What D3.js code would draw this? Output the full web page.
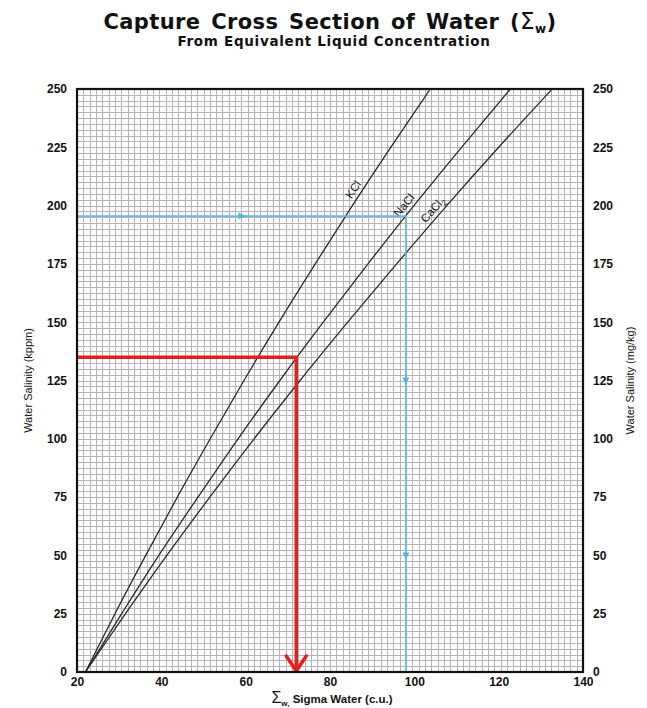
<!DOCTYPE html>
<html>
<head>
<meta charset="utf-8">
<script src="https://cdn.jsdelivr.net/npm/d3@7/dist/d3.min.js"></script>
<style>
  html, body { margin: 0; padding: 0; background: #fff; }
  svg { display: block; }
</style>
</head>
<body>
<svg id="chart" width="647" height="708"></svg>
<script>
// ---------------- data ----------------
const salinity = [0, 25, 50, 75, 100, 125, 150, 175, 200, 225, 250];          // kppm
const kclSigma   = [22.0, 29.0, 36.3, 43.8, 51.6, 59.6, 67.9, 76.5, 85.3, 94.4, 103.8];
const naclSigma  = [22.0, 30.6, 39.4, 48.7, 58.2, 68.1, 78.4, 89.0, 99.9, 111.2, 122.8];
const cacl2Sigma = [22.0, 31.5, 41.3, 51.5, 62.0, 72.9, 84.2, 95.8, 107.7, 120.0, 132.7];
const seriesNames = ["KCl", "NaCl", "CaCl2"];
const labelSalinity = [205, 198, 196];
const xTicks = [20, 40, 60, 80, 100, 120, 140];
const yTicks = [0, 25, 50, 75, 100, 125, 150, 175, 200, 225, 250];
const redExample  = [[20, 135], [72, 135], [72, 0]];      // [sigma, salinity]
const blueExample = [[20, 195.5], [98, 195.5], [98, 0]];
const blueMarks   = [[59, 195.5, "right"], [98, 125, "down"], [98, 50, "down"]];

// ---------------- layout ----------------
const svg = d3.select("#chart");
const L = 77, R = 583, T = 89, B = 672;
const x = d3.scaleLinear().domain([20, 140]).range([L, R]);
const y = d3.scaleLinear().domain([0, 250]).range([B, T]);
const FONT = "'Liberation Sans', Arial, Helvetica, sans-serif";

// titles
const title = svg.append("text")
  .attr("x", 330).attr("y", 29)
  .attr("text-anchor", "middle")
  .attr("font-family", "'DejaVu Sans', sans-serif")
  .attr("font-weight", "bold")
  .attr("font-size", 21)
  .attr("letter-spacing", 0.4)
  .attr("word-spacing", 3)
  .attr("fill", "#111");
title.append("tspan").text("Capture Cross Section of Water (");
title.append("tspan").attr("font-weight", "normal").attr("font-size", 23).text("Σ");
title.append("tspan").attr("font-size", 12).attr("dy", 4).text("w");
title.append("tspan").attr("dy", -4).text(")");

svg.append("text")
  .attr("x", 334).attr("y", 46)
  .attr("text-anchor", "middle")
  .attr("font-family", "'DejaVu Sans', sans-serif")
  .attr("font-weight", "bold")
  .attr("font-size", 13.5)
  .attr("letter-spacing", 0.7)
  .attr("fill", "#111")
  .text("From Equivalent Liquid Concentration");

// grid
const grid = svg.append("g").attr("shape-rendering", "crispEdges")
  .attr("stroke", "#b8b3b8").attr("stroke-width", 1);
const gx = d3.range(1, 80).map(i => 20 + i * 1.5);
const gy = d3.range(1, 100).map(i => i * 2.5);
grid.selectAll("line.v").data(gx).join("line")
  .attr("x1", d => Math.round(x(d)) + 0.5).attr("x2", d => Math.round(x(d)) + 0.5)
  .attr("y1", T).attr("y2", B);
grid.selectAll("line.h").data(gy).join("line")
  .attr("y1", d => Math.round(y(d)) + 0.5).attr("y2", d => Math.round(y(d)) + 0.5)
  .attr("x1", L).attr("x2", R);

// curves
const allSeries = [kclSigma, naclSigma, cacl2Sigma].map((s, i) => ({
  name: seriesNames[i],
  pts: s.map((v, j) => [v, salinity[j]])
}));
const line = d3.line().x(d => x(d[0])).y(d => y(d[1])).curve(d3.curveMonotoneX);
svg.append("g").selectAll("path").data(allSeries).join("path")
  .attr("d", d => line(d.pts))
  .attr("fill", "none").attr("stroke", "#2a2a2a").attr("stroke-width", 1.3);

// curve labels
function sigmaAt(pts, s) {
  for (let j = 1; j < pts.length; j++) {
    if (s <= pts[j][1]) {
      const t = (s - pts[j-1][1]) / (pts[j][1] - pts[j-1][1]);
      return pts[j-1][0] + t * (pts[j][0] - pts[j-1][0]);
    }
  }
  return pts[pts.length - 1][0];
}
allSeries.forEach((d, i) => {
  const s = labelSalinity[i];
  const px = x(sigmaAt(d.pts, s)), py = y(s);
  const px2 = x(sigmaAt(d.pts, s + 10)), py2 = y(s + 10);
  const ang = Math.atan2(py2 - py, px2 - px);
  const deg = ang * 180 / Math.PI;
  const off = 4;
  const nx = Math.sin(ang) * off, ny = -Math.cos(ang) * off;
  const t = svg.append("text")
    .attr("transform", `translate(${px + nx},${py + ny}) rotate(${deg})`)
    .attr("text-anchor", "middle")
    .attr("font-family", FONT).attr("font-size", 11.5)
    .attr("fill", "#111");
  if (d.name === "CaCl2") {
    t.append("tspan").text("CaCl");
    t.append("tspan").attr("font-size", 8).attr("dy", 3).text("2");
  } else {
    t.text(d.name);
  }
});

// blue example
const pathLine = d3.line().x(d => x(d[0])).y(d => y(d[1]));
svg.append("path").attr("d", pathLine(blueExample))
  .attr("fill", "none").attr("stroke", "#5fbde6").attr("stroke-width", 1.6);
svg.append("g").selectAll("path").data(blueMarks).join("path")
  .attr("transform", d => `translate(${x(d[0])},${y(d[1])}) rotate(${d[2] === "down" ? 90 : 0})`)
  .attr("d", "M4,0 L-3,-3.5 L-3,3.5 Z")
  .attr("fill", "#4fb3e3");

// red example
svg.append("path").attr("d", pathLine(redExample))
  .attr("fill", "none").attr("stroke", "#e3201b").attr("stroke-width", 3.5)
  .attr("stroke-linejoin", "miter");
const rx = x(redExample[2][0]), ry = y(redExample[2][1]);
svg.append("path")
  .attr("d", `M${rx - 10},${ry - 16} L${rx},${ry - 1} L${rx + 10},${ry - 16}`)
  .attr("fill", "none").attr("stroke", "#e3201b").attr("stroke-width", 3.5)
  .attr("stroke-linecap", "round").attr("stroke-linejoin", "round");

// frame
svg.append("rect").attr("x", L).attr("y", T).attr("width", R - L).attr("height", B - T)
  .attr("fill", "none").attr("stroke", "#111").attr("stroke-width", 2.2);

// axes
function styleAxis(g) {
  g.select(".domain").remove();
  g.selectAll("line").remove();
  g.selectAll("text").attr("font-family", FONT).attr("font-weight", "bold")
    .attr("font-size", 12).attr("fill", "#111");
}
svg.append("g").attr("transform", `translate(${L},0)`)
  .call(d3.axisLeft(y).tickValues(yTicks).tickSize(0).tickPadding(10)).call(styleAxis);
svg.append("g").attr("transform", `translate(${R},0)`)
  .call(d3.axisRight(y).tickValues(yTicks).tickSize(0).tickPadding(10)).call(styleAxis);
svg.append("g").attr("transform", `translate(0,${B})`)
  .call(d3.axisBottom(x).tickValues(xTicks).tickSize(0).tickPadding(5)).call(styleAxis);

// axis titles
svg.append("text")
  .attr("transform", `translate(32,${(T + B) / 2}) rotate(-90)`)
  .attr("text-anchor", "middle")
  .attr("font-family", FONT).attr("font-size", 11).attr("fill", "#111")
  .text("Water Salinity (kppm)");
svg.append("text")
  .attr("transform", `translate(634,${(T + B) / 2}) rotate(-90)`)
  .attr("text-anchor", "middle")
  .attr("font-family", FONT).attr("font-size", 11).attr("fill", "#111")
  .text("Water Salinity (mg/kg)");

const xt = svg.append("text")
  .attr("x", 332).attr("y", 703)
  .attr("text-anchor", "middle")
  .attr("font-family", FONT).attr("font-weight", "bold")
  .attr("font-size", 11.5).attr("fill", "#111");
xt.append("tspan").attr("font-weight", "normal").attr("font-size", 16).text("Σ");
xt.append("tspan").attr("font-size", 8).attr("dy", 3).text("w,");
xt.append("tspan").attr("dy", -3).text(" Sigma Water (c.u.)");
</script>
</body>
</html>
